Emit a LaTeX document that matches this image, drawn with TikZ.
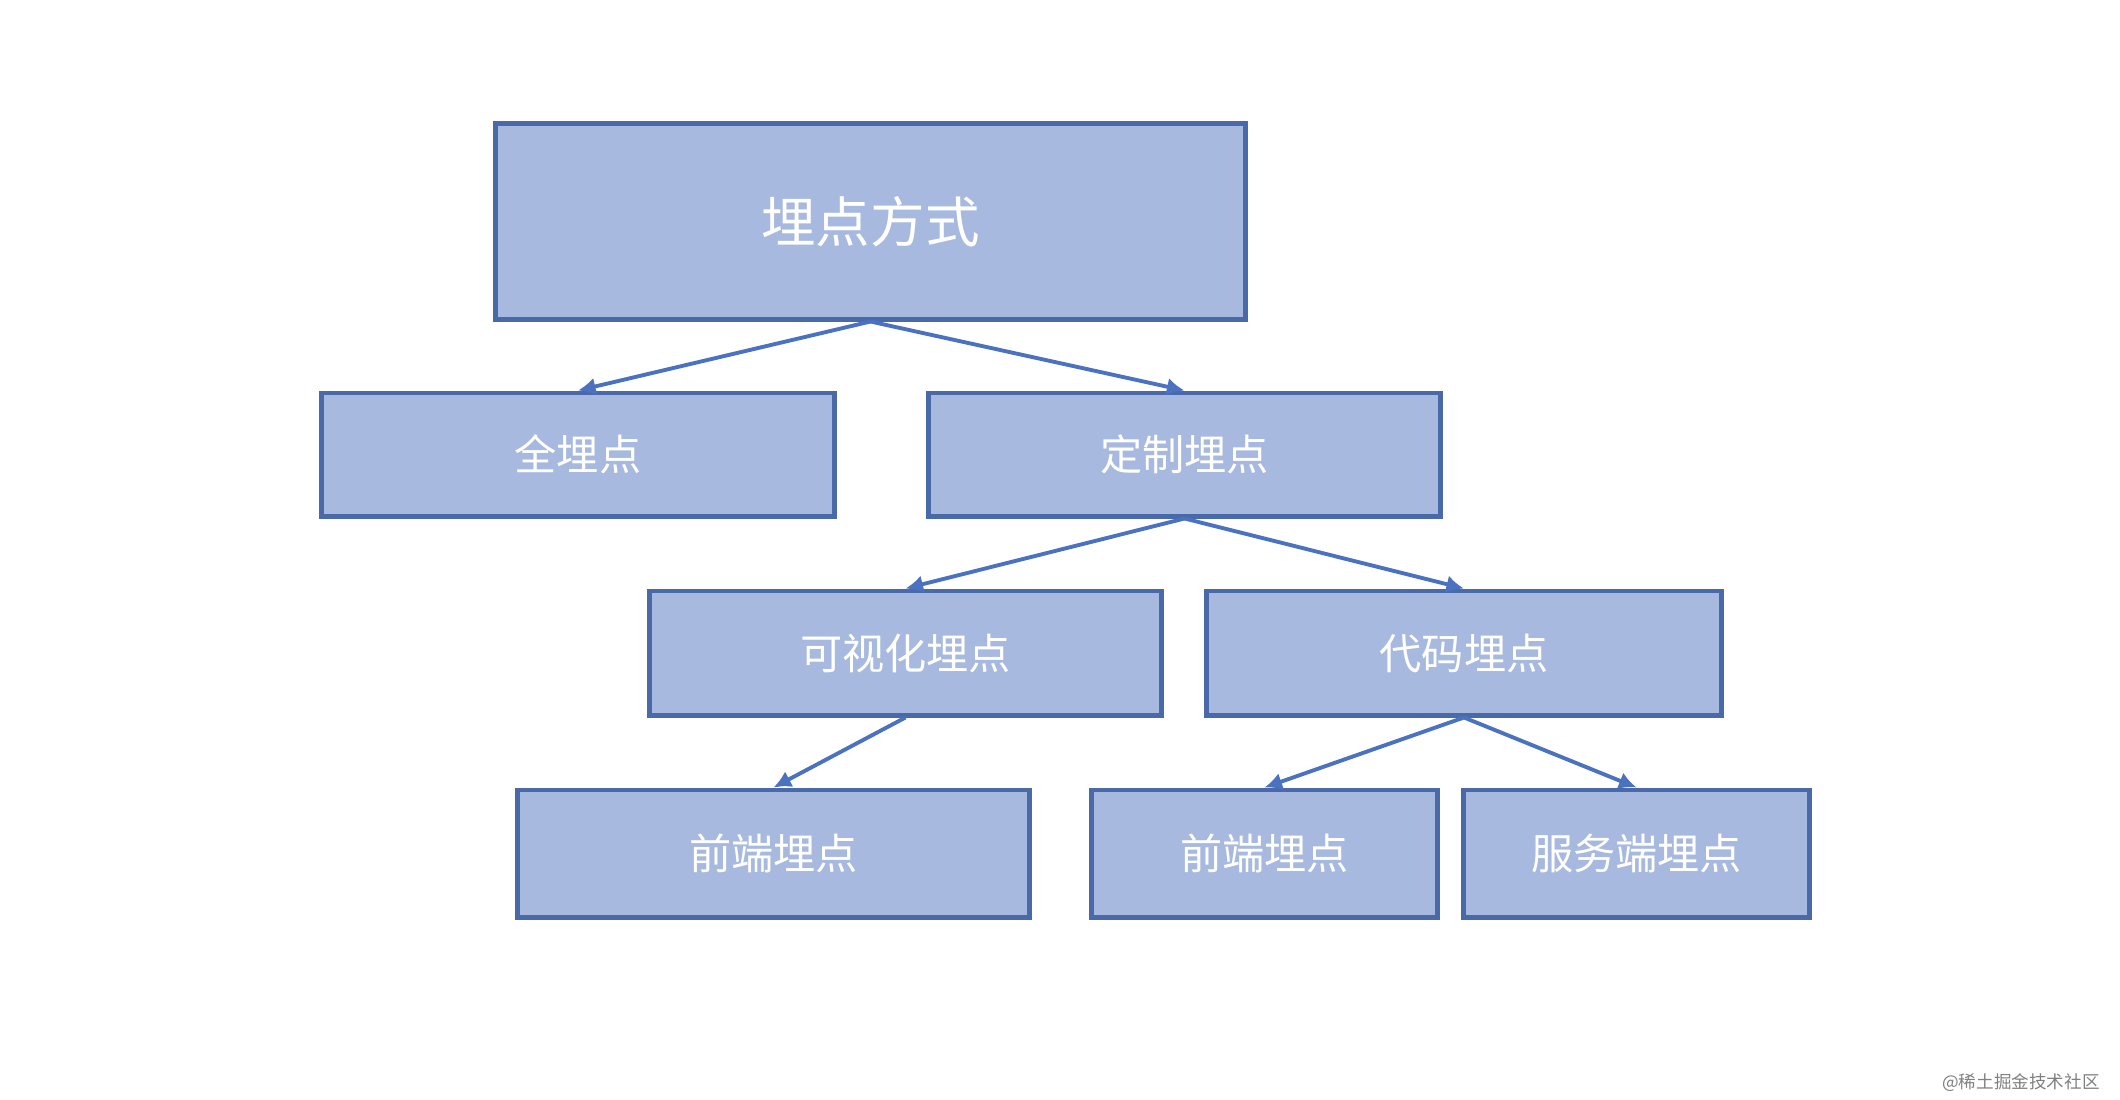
\documentclass[tikz,border=0pt]{standalone}
\usepackage{fontspec}
\usepackage{xcolor}
\usepackage{tikz}
\usetikzlibrary{arrows.meta}
\newfontfamily\cjk{Noto Sans CJK SC}
\definecolor{boxfill}{HTML}{A7B9DF}
\definecolor{boxline}{HTML}{4A69A8}
\definecolor{arrowcol}{HTML}{4A72C0}
\begin{document}
\begin{tikzpicture}[x = 0.01cm, y = -0.01cm,
                    box/.style = {draw=boxline, fill=boxfill, line width=1.4pt,
                                  text=white, font=\cjk\fontsize{12}{14}\selectfont,
                                  inner sep=0pt},
                    link/.style = {draw=arrowcol, line width=1.1pt, -{Latex[length=5pt,width=5pt]}}]

  % BOUNDS
  \useasboundingbox (0,0) rectangle (2120,1100);

  % BOXES
  \node[box, minimum width=74.9mm, minimum height=19.5mm, font=\cjk\fontsize{15.5}{18}\selectfont] (root) at (870.5,221.5) {埋点方式};
  \node[box, minimum width=51.2mm, minimum height=12.3mm] (full) at (578,454.5) {全埋点};
  \node[box, minimum width=51.1mm, minimum height=12.3mm] (custom) at (1184.5,454.5) {定制埋点};
  \node[box, minimum width=51.1mm, minimum height=12.4mm] (visual) at (905.5,653) {可视化埋点};
  \node[box, minimum width=51.4mm, minimum height=12.4mm] (code) at (1464,653) {代码埋点};
  \node[box, minimum width=51.1mm, minimum height=12.7mm] (frontA) at (773.5,853.5) {前端埋点};
  \node[box, minimum width=34.5mm, minimum height=12.7mm] (frontB) at (1264.5,853.5) {前端埋点};
  \node[box, minimum width=34.5mm, minimum height=12.7mm] (server) at (1636.5,853.5) {服务端埋点};

  % LINKS
  \draw[link] (root.south) -- (full.north);
  \draw[link] (root.south) -- (custom.north);
  \draw[link] (custom.south) -- (visual.north);
  \draw[link] (custom.south) -- (code.north);
  \draw[link] (visual.south) -- (frontA.north);
  \draw[link] (code.south) -- (frontB.north);
  \draw[link] (code.south) -- (server.north);

  % MARK
  \node[text=gray, font=\cjk\fontsize{5}{6}\selectfont, anchor=east] (mark) at (2112,1083) {@稀土掘金技术社区};

\end{tikzpicture}
\end{document}
